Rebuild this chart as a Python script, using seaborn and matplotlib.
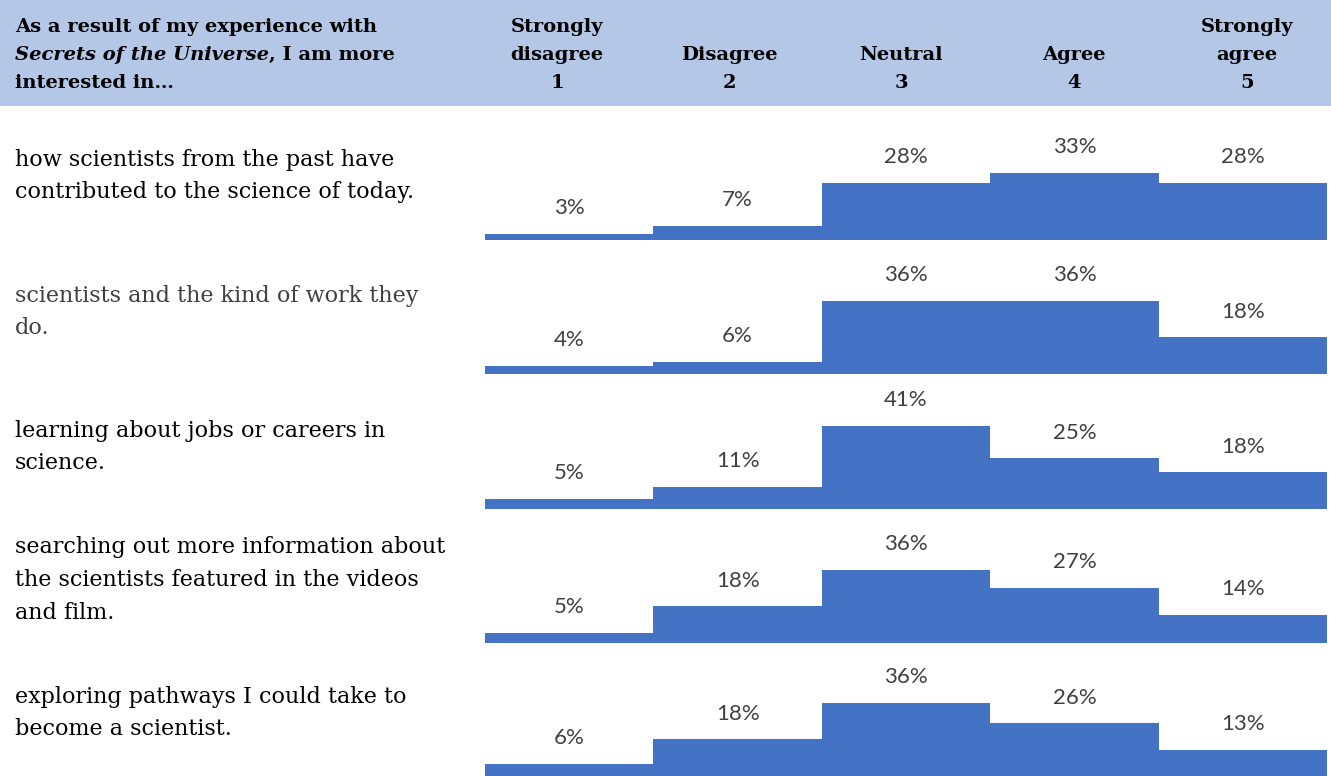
import matplotlib
matplotlib.use("Agg")
import matplotlib.pyplot as plt
from matplotlib.patches import Rectangle
import pandas as pd
import seaborn as sns

# Survey data
levels = ["Strongly disagree", "Disagree", "Neutral", "Agree", "Strongly agree"]
level_headers = [["Strongly", "disagree", "1"], ["Disagree", "2"], ["Neutral", "3"],
                 ["Agree", "4"], ["Strongly", "agree", "5"]]
statements = [
    "how scientists from the past have\ncontributed to the science of today.",
    "scientists and the kind of work they\ndo.",
    "learning about jobs or careers in\nscience.",
    "searching out more information about\nthe scientists featured in the videos\nand film.",
    "exploring pathways I could take to\nbecome a scientist.",
]
past_scientists = [3, 7, 28, 33, 28]
kind_of_work = [4, 6, 36, 36, 18]
jobs_careers = [5, 11, 41, 25, 18]
more_information = [5, 18, 36, 27, 14]
pathways = [6, 18, 36, 26, 13]
series = [past_scientists, kind_of_work, jobs_careers, more_information, pathways]

sns.set_theme(style="white")

SERIF = "DejaVu Serif"
SANS = "Lato"
BAR = "#4472C4"
HEADER = "#B4C7E7"
W, H = 1331, 776

fig = plt.figure(figsize=(W / 100, H / 100), dpi=100)
fig.patch.set_facecolor("white")
renderer = fig.canvas.get_renderer()


def fx(x):
    return x / W


def fy(y):
    return 1 - y / H


def px_axes(x0, y0, x1, y1):
    return fig.add_axes([fx(x0), fy(y1), (x1 - x0) / W, (y1 - y0) / H])


# Header band
fig.patches.append(Rectangle((0, fy(106)), 1, 106 / H, transform=fig.transFigure,
                             facecolor=HEADER, edgecolor="none", zorder=0))

title_kw = dict(ha="left", va="baseline", fontsize=14, fontweight="bold",
                family=SERIF, color="black")
fig.text(fx(15), fy(32), "As a result of my experience with", **title_kw)
it = fig.text(fx(15), fy(60), "Secrets of the Universe", style="italic", **title_kw)
bb = it.get_window_extent(renderer)
fig.text(bb.x1 / W, fy(60), ", I am more", **title_kw)
fig.text(fx(15), fy(88), "interested in…", **title_kw)

header_x = [557, 729, 901, 1074, 1247]
line_y = [32, 60, 88]
for xc, lines in zip(header_x, level_headers):
    for ln, yy in zip(lines, line_y[3 - len(lines):]):
        fig.text(fx(xc), fy(yy), ln, ha="center", va="baseline", fontsize=14,
                 fontweight="bold", family=SERIF, color="black")

# Rows
baselines = [240, 374, 509, 643, 776]
label_y = [176, 312, 447, 580, 713]
label_colors = ["black", "#404040", "black", "black", "black"]
px_per_pct = 2.03
ax_h = 130

for vals, base, text, ly, tc in zip(series, baselines, statements, label_y, label_colors):
    fig.text(fx(15), fy(ly), text, ha="left", va="center", fontsize=16,
             family=SERIF, linespacing=1.62, color=tc)

    ax = px_axes(485, base - ax_h, 1327, base)
    df = pd.DataFrame({"level": levels, "pct": vals})
    sns.barplot(data=df, x="level", y="pct", order=levels, color=BAR,
                saturation=1, width=1.0, linewidth=0, ax=ax)
    ax.set_xlim(-0.5, 4.5)
    ax.set_ylim(0, ax_h / px_per_pct)
    ax.axis("off")
    for i, v in enumerate(vals):
        ax.annotate(f"{v}%", (i, v), xytext=(0, 18.5), textcoords="offset points",
                    ha="center", va="center", color="#404040", fontsize=16,
                    family=SANS, annotation_clip=False)

fig.savefig("out.png", dpi=100)
